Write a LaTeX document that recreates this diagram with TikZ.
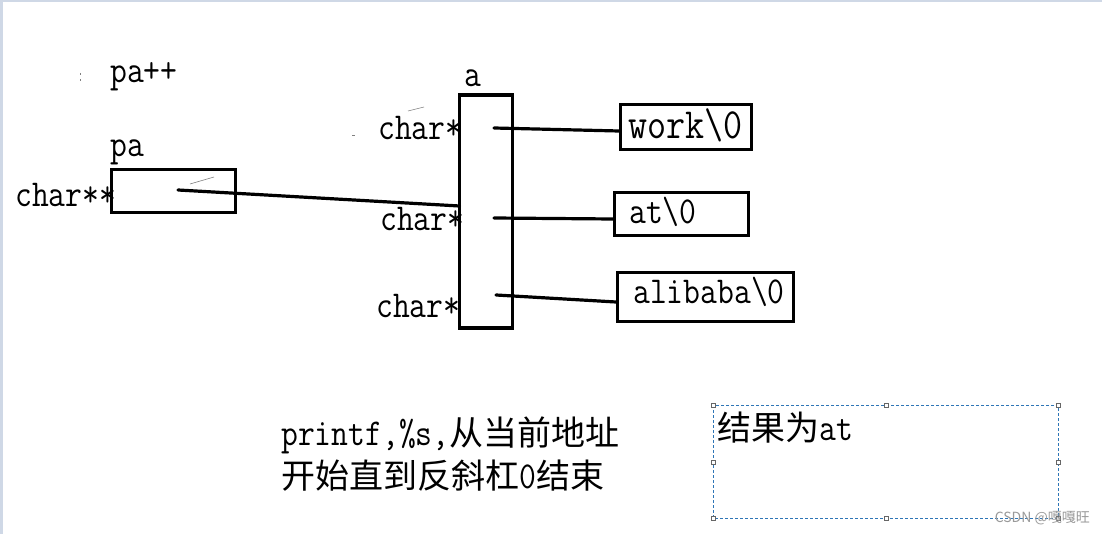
\documentclass[tikz,border=0pt]{standalone}
\usepackage{fontspec}
\newfontfamily\cjk{Noto Sans CJK SC}
\newfontfamily\mono[FakeStretch=0.86]{Latin Modern Mono}
\definecolor{strip}{HTML}{CFD8E6}
\definecolor{selblue}{HTML}{2E75B6}
\definecolor{wm}{HTML}{9A9A9A}
\begin{document}
\begin{tikzpicture}[x=1pt,y=-1pt,
  cell/.style={draw=black,line width=3.2pt,fill=none,inner sep=0pt},
  link/.style={line width=3.2pt,line cap=round},
  lbl/.style={anchor=base west,inner sep=0pt,font=\mono\fontsize{38}{40}\selectfont},
  big/.style={anchor=base west,inner sep=0pt,font=\mono\fontsize{43}{46}\selectfont},
  zh/.style={anchor=base west,inner sep=0pt},
  handle/.style={draw=gray!80!black,fill=white,line width=0.6pt,minimum size=4pt,inner sep=0pt},
  speck/.style={line width=0.6pt,gray}]
\useasboundingbox (0,0) rectangle (1102,534);
\fill[white] (0,0) rectangle (1102,534);
\fill[strip] (0,0) rectangle (3,534);
\fill[strip] (0,0) rectangle (1102,2);

% pointer pa
\node[lbl] (papp) at (110,83) {pa++};
\node[lbl] (palbl) at (110,157) {pa};
\node[lbl] (pptr) at (15,207) {char**};
\node[cell,minimum width=124,minimum height=43] (pa) at (173.5,191) {};

% array a
\node[lbl] (albl) at (464,87) {a};
\node[cell,minimum width=53,minimum height=233] (a) at (486,211.5) {};
\node[lbl] (c1) at (378,140) {char*};
\node[lbl] (c2) at (380,231) {char*};
\node[lbl] (c3) at (376,317) {char*};

% strings
\node[cell,minimum width=131,minimum height=45] (s1) at (686,127) {};
\node[big] (t1) at (628,139) {work\textbackslash0};
\node[cell,minimum width=134,minimum height=43] (s2) at (681.5,214) {};
\node[lbl] (t2) at (629,224) {at\textbackslash0};
\node[cell,minimum width=176,minimum height=49] (s3) at (705.5,297) {};
\node[lbl] (t3) at (633,304) {alibaba\textbackslash0};

% connectors
\coordinate (pdot) at (178,190);
\coordinate (aL) at (459.5,206);
\coordinate (d1) at (494,128);
\coordinate (d2) at (494,218);
\coordinate (d3) at (496,295);
\coordinate (e1) at (619,131);
\coordinate (e2) at (613,219);
\coordinate (e3) at (616,302);
\draw[link] (pdot) -- (aL);
\draw[link] (d1) -- (e1);
\draw[link] (d2) -- (e2);
\draw[link] (d3) -- (e3);

% small stray marks
\draw[speck] (190,184) -- (214,177);
\draw[speck] (408,111) -- (424,107);
\draw[speck] (352,135) -- (355,135);
\draw[speck] (80,73) -- (80,75);
\draw[speck] (80,79) -- (80,81);

% explanation
\node[zh] (n1) at (281,445) {{\mono\fontsize{38}{40}\selectfont printf,\%s,}{\cjk\fontsize{34}{36}\selectfont 从当前地址}};
\node[zh] (n2) at (281,488) {{\cjk\fontsize{34}{36}\selectfont 开始直到反斜杠}{\mono\fontsize{38}{40}\selectfont 0}{\cjk\fontsize{34}{36}\selectfont 结束}};

% result text box
\draw[selblue,line width=0.8pt,dash pattern=on 3pt off 2pt] (713,405) rectangle (1058,518);
\foreach \p [count=\i] in {(713,405),(886,405),(1058,405),(713,462),(1058,462),(713,518),(886,518),(1058,518)}
  \node[handle] (h\i) at \p {};
\node[zh] (res) at (717,440) {{\cjk\fontsize{34}{36}\selectfont 结果为}{\mono\fontsize{38}{40}\selectfont at}};

% watermark
\node[anchor=east,inner sep=0pt,text=wm,font=\cjk\fontsize{14}{15}\selectfont] (wmk) at (1090,518) {CSDN @嘎嘎旺};
\end{tikzpicture}
\end{document}
